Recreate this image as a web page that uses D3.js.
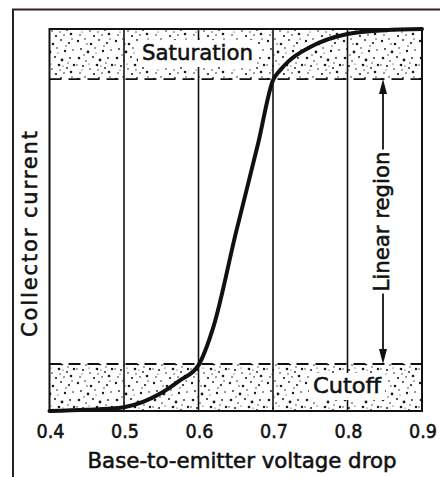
<!DOCTYPE html>
<html>
<head>
<meta charset="utf-8">
<script src="https://cdn.jsdelivr.net/npm/d3@7"></script>
<style>
  body { margin: 0; background: #fff; }
  svg text { font-family: "DejaVu Sans", sans-serif; fill: #111; stroke: #111; stroke-width: 0.55px; }
</style>
</head>
<body>
<div id="chart"></div>
<script>
// DATA
var xTicks = [0.4, 0.5, 0.6, 0.7, 0.8, 0.9];
var gridX = [0.5, 0.6, 0.7, 0.8];
var voltage = [0.40, 0.45, 0.50, 0.55, 0.575, 0.60, 0.62, 0.65, 0.68, 0.70, 0.71, 0.72, 0.75, 0.80, 0.85, 0.90];
var current = [0, 0.3, 1, 4.7, 8, 12, 22, 46.5, 70, 86.6, 89.3, 91.4, 95.3, 98.7, 99.7, 100];
var cutoffLevel = 12.3;
var saturationLevel = 86.9;
var xTitle = 'Base-to-emitter voltage drop';
var yTitle = 'Collector current';

// SETTINGS
var W = 440, H = 477;
var plot = { left: 49.5, right: 422, top: 29, bottom: 411 };

var x = d3.scaleLinear().domain([0.4, 0.9]).range([plot.left, plot.right]);
var y = d3.scaleLinear().domain([0, 100]).range([plot.bottom, plot.top]);

var svg = d3.select('#chart').append('svg')
   .attr('width', W)
   .attr('height', H);

// STIPPLE PATTERN (fixed dot layout)
var dots = [
   [2,3,1.2],[9,1,0.8],[15,6,1.3],[23,2,0.9],[31,5,1.1],[35,12,0.8],[5,11,0.9],[12,14,1.4],
   [19,10,0.8],[27,13,1.2],[3,20,1.3],[10,23,0.8],[17,19,1.0],[24,22,1.4],[32,20,0.9],[7,28,1.0],
   [14,31,0.8],[21,27,1.3],[29,30,0.9],[36,27,1.2],[4,35,0.8],[18,36,1.1],[26,35,0.8],[33,34,1.3],
   [11,6,0.7],[28,8,0.7],[8,17,0.7],[30,25,0.7],[22,32,0.7],[1,27,0.7],[20,15,0.6],[34,1,0.7],
   [13,26,0.6],[25,28,0.6],[6,32,0.6]
];
var defs = svg.append('defs');
var pat = defs.append('pattern')
   .attr('id', 'stipple')
   .attr('patternUnits', 'userSpaceOnUse')
   .attr('width', 38)
   .attr('height', 38);
pat.selectAll('circle').data(dots).enter().append('circle')
   .attr('cx', d => d[0]).attr('cy', d => d[1]).attr('r', d => d[2])
   .attr('fill', '#1a1a1a');

// OUTER FRAME
svg.append('line').attr('x1', 12).attr('x2', W).attr('y1', 9.5).attr('y2', 9.5)
   .attr('stroke', '#3a1c1c').attr('stroke-width', 2);
svg.append('line').attr('x1', 13).attr('x2', 13).attr('y1', 9).attr('y2', H)
   .attr('stroke', '#222').attr('stroke-width', 2);

// STIPPLED BANDS
svg.append('rect')
   .attr('x', x(0.4)).attr('y', y(100))
   .attr('width', x(0.9) - x(0.4)).attr('height', y(saturationLevel) - y(100))
   .attr('fill', 'url(#stipple)');
svg.append('rect')
   .attr('x', x(0.4)).attr('y', y(cutoffLevel))
   .attr('width', x(0.9) - x(0.4)).attr('height', y(0) - y(cutoffLevel))
   .attr('fill', 'url(#stipple)');

// GRID LINES
svg.selectAll('.grid').data(gridX).enter().append('line')
   .attr('class', 'grid')
   .attr('x1', d => x(d)).attr('x2', d => x(d))
   .attr('y1', y(100)).attr('y2', y(0))
   .attr('stroke', '#111').attr('stroke-width', 1.6);

// DASHED REGION LIMITS
[saturationLevel, cutoffLevel].forEach(function(lv) {
   svg.append('line')
      .attr('x1', x(0.4)).attr('x2', x(0.9))
      .attr('y1', y(lv)).attr('y2', y(lv))
      .attr('stroke', '#111').attr('stroke-width', 1.8)
      .attr('stroke-dasharray', '12,7');
});

// PLOT BORDER
svg.append('rect')
   .attr('x', x(0.4)).attr('y', y(100))
   .attr('width', x(0.9) - x(0.4)).attr('height', y(0) - y(100))
   .attr('fill', 'none').attr('stroke', '#111').attr('stroke-width', 2);

// LABEL BOXES
function boxedLabel(txt, cx, base, len) {
   svg.append('rect')
      .attr('x', cx - len / 2 - 4).attr('y', base - 20)
      .attr('width', len + 8).attr('height', 27)
      .attr('fill', '#fff');
   svg.append('text')
      .attr('x', cx).attr('y', base)
      .attr('text-anchor', 'middle')
      .attr('font-size', 21)
      .attr('textLength', len).attr('lengthAdjust', 'spacingAndGlyphs')
      .text(txt);
}
boxedLabel('Saturation', 197.5, 60, 111);
boxedLabel('Cutoff', 347, 393, 68);

// CURVE
var line = d3.line()
   .x((d, i) => x(voltage[i]))
   .y(d => y(d))
   .curve(d3.curveMonotoneX);
svg.append('path')
   .attr('d', line(current))
   .attr('fill', 'none')
   .attr('stroke', '#111')
   .attr('stroke-width', 4)
   .attr('stroke-linecap', 'round');

// LINEAR REGION ARROW
var ax = 383;
var yTopArrow = y(saturationLevel), yBotArrow = y(cutoffLevel);
svg.append('line').attr('x1', ax).attr('x2', ax).attr('y1', yTopArrow + 10).attr('y2', yBotArrow - 10)
   .attr('stroke', '#111').attr('stroke-width', 1.8);
svg.append('path')
   .attr('d', 'M' + ax + ',' + yTopArrow + 'l-4,15l8,0z')
   .attr('fill', '#111');
svg.append('path')
   .attr('d', 'M' + ax + ',' + yBotArrow + 'l-4,-15l8,0z')
   .attr('fill', '#111');
var midLin = (yTopArrow + yBotArrow) / 2;
svg.append('rect')
   .attr('x', ax - 12).attr('y', midLin - 72)
   .attr('width', 24).attr('height', 144)
   .attr('fill', '#fff');
svg.append('text')
   .attr('transform', 'translate(' + (ax + 6) + ',' + midLin + ') rotate(-90)')
   .attr('text-anchor', 'middle')
   .attr('font-size', 21)
   .attr('textLength', 140).attr('lengthAdjust', 'spacingAndGlyphs')
   .text('Linear region');

// X TICK LABELS
svg.selectAll('.tick').data(xTicks).enter().append('text')
   .attr('class', 'tick')
   .attr('x', d => Math.min(x(d) + 1, W - 17))
   .attr('y', 438)
   .attr('text-anchor', 'middle')
   .attr('font-size', 20)
   .attr('textLength', 28).attr('lengthAdjust', 'spacingAndGlyphs')
   .text(d => d3.format('.1f')(d));

// AXIS TITLES
svg.append('text')
   .attr('x', 242).attr('y', 468)
   .attr('text-anchor', 'middle')
   .attr('font-size', 21)
   .attr('textLength', 309).attr('lengthAdjust', 'spacingAndGlyphs')
   .text(xTitle);
svg.append('text')
   .attr('transform', 'translate(37,' + 234 + ') rotate(-90)')
   .attr('text-anchor', 'middle')
   .attr('font-size', 21)
   .attr('textLength', 206).attr('lengthAdjust', 'spacing')
   .text(yTitle);
</script>
</body>
</html>
